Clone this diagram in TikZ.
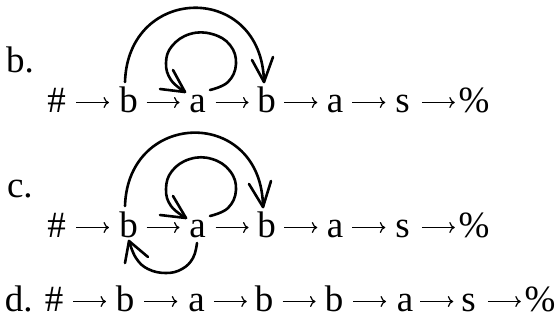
\documentclass[tikz,border=0pt]{standalone}
\usepackage{fontspec}
\setmainfont{Liberation Serif}
\usetikzlibrary{arrows.meta,calc}
\tikzset{
  sym/.style={inner sep=0pt, outer sep=0pt, anchor=base, font=\fontsize{37}{44}\selectfont},
  lbl/.style={inner sep=0pt, outer sep=0pt, anchor=base west, font=\fontsize{37}{44}\selectfont},
  arr/.style={line width=1.25pt, -{To[length=5.5pt,width=11pt]}},
  hand/.style={line width=2.6pt, line cap=round, line join=round},
}
\newcommand\myconn[2]{\draw[arr] ($(#1.base)!0.5!(#2.base)+(-16.5pt,9.5pt)$) -- ($(#1.base)!0.5!(#2.base)+(16.5pt,9.5pt)$);}
\begin{document}
\begin{tikzpicture}[x=1pt,y=-1pt]
\useasboundingbox (0,0) rectangle (559,330);
% ---------- row b ----------
\node[lbl] (lb) at (6,72) {b.};
\node[sym] (b0) at (56.5,112) {\#};
\node[sym] (b1) at (128.5,112) {b};
\node[sym] (b2) at (197.5,112) {a};
\node[sym] (b3) at (266.5,112) {b};
\node[sym] (b4) at (335,112) {a};
\node[sym] (b5) at (402.5,112) {s};
\node[sym] (b6) at (474,112) {\%};
\foreach \i/\j in {b0/b1,b1/b2,b2/b3,b3/b4,b4/b5,b5/b6} {\myconn{\i}{\j}}
\coordinate (bA) at (125,82);
\coordinate (bT) at (264,82);
\draw[hand] (bA) .. controls (128,-16) and (262,-18) .. (bT);
\draw[hand] (252,60) -- (bT) -- (273,57);
\coordinate (bL) at (210,90);
\coordinate (bLT) at (185,92);
\draw[hand] plot[smooth, tension=0.7] coordinates {(bL) (228,82) (236,64) (230,45) (212,34) (190,34) (172,46) (166,63) (171,80) (bLT)};
\draw[hand] (173,70) -- (bLT) -- (160,89);
% ---------- row c ----------
\node[lbl] (lc) at (7,197) {c.};
\node[sym] (c0) at (56.5,237) {\#};
\node[sym] (c1) at (128.5,237) {b};
\node[sym] (c2) at (197.5,237) {a};
\node[sym] (c3) at (266.5,237) {b};
\node[sym] (c4) at (335,237) {a};
\node[sym] (c5) at (402.5,237) {s};
\node[sym] (c6) at (474,237) {\%};
\foreach \i/\j in {c0/c1,c1/c2,c2/c3,c3/c4,c4/c5,c5/c6} {\myconn{\i}{\j}}
\coordinate (cA) at (125,206);
\coordinate (cT) at (263,207);
\draw[hand] (cA) .. controls (128,109) and (262,107) .. (cT);
\draw[hand] (249,184) -- (cT) -- (271,181);
\coordinate (cL) at (210,216);
\coordinate (cLT) at (186,218);
\draw[hand] plot[smooth, tension=0.7] coordinates {(cL) (228,208) (236,190) (230,171) (212,159) (190,159) (172,171) (166,189) (171,206) (cLT)};
\draw[hand] (173,196) -- (cLT) -- (160,215);
\coordinate (cB) at (197,243);
\coordinate (cBT) at (129,241);
\draw[hand] plot[smooth, tension=0.7] coordinates {(cB) (193,258) (182,269) (166,273) (148,269) (136,258) (cBT)};
\draw[hand] (125,263) -- (cBT) -- (148,257);
% ---------- row d ----------
\node[lbl] (ld) at (5,311) {d.};
\node[sym] (d0) at (54,311) {\#};
\node[sym] (d1) at (125,311) {b};
\node[sym] (d2) at (196.5,311) {a};
\node[sym] (d3) at (264,311) {b};
\node[sym] (d4) at (334,311) {b};
\node[sym] (d5) at (405,311) {a};
\node[sym] (d6) at (468.5,311) {s};
\node[sym] (d7) at (540,311) {\%};
\foreach \i/\j in {d0/d1,d1/d2,d2/d3,d3/d4,d4/d5,d5/d6,d6/d7} {\myconn{\i}{\j}}
\end{tikzpicture}
\end{document}
